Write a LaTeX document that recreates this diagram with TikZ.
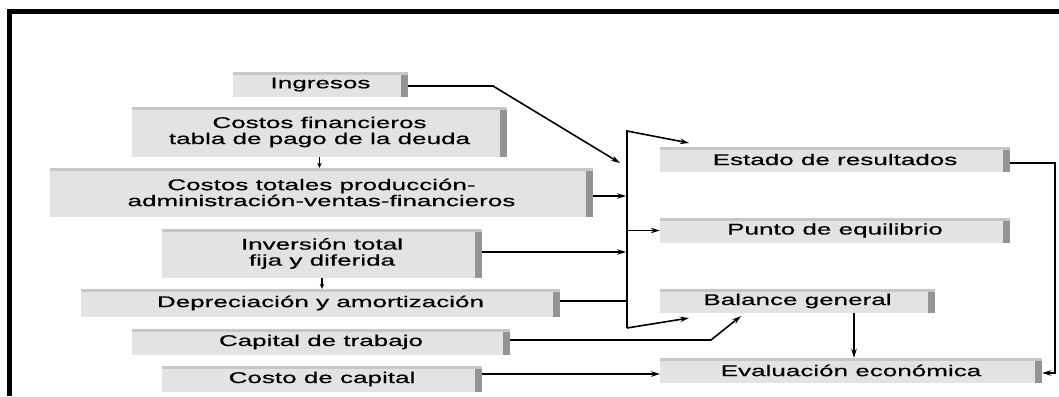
\documentclass[tikz,border=0pt]{standalone}
\usepackage{fontspec}
\usetikzlibrary{arrows.meta}
\newfontfamily\lbl[FakeStretch=1.68,FakeBold=0.5]{Liberation Sans}
\tikzset{
  gbox/.style={draw=none, fill=black!11, inner sep=0pt, align=center,
    font=\lbl\fontsize{15.5}{16}\selectfont,
    path picture={
      \fill[black!42] ([xshift=-7pt]path picture bounding box.north east) rectangle (path picture bounding box.south east);
      \fill[black!22] (path picture bounding box.north west) rectangle ([yshift=-2.5pt]path picture bounding box.north east);
    }},
  conn/.style={draw=black, line width=1.6pt},
  arr/.style={conn, -{Stealth[length=9pt,width=5.5pt]}},
  sarr/.style={conn, line width=1.3pt, -{Stealth[length=5pt,width=4.5pt]}}
}
\begin{document}
\begin{tikzpicture}[x=1pt,y=-1pt]
\useasboundingbox (0,0) rectangle (1059,396);
\fill[white] (0,0) rectangle (1059,396);
% frame
\fill[black] (7,9) rectangle (1059,14);
\fill[black] (7,9) rectangle (12,396);

% left boxes
\node[gbox, minimum width=175pt, minimum height=25pt] (ing) at (320.5,84.5) {Ingresos};
\node[gbox, minimum width=375pt, minimum height=50pt] (cf) at (319.5,132) {Costos financieros\\tabla de pago de la deuda};
\node[gbox, minimum width=543pt, minimum height=49pt] (ct) at (321.5,192.5) {Costos totales producción-\\administración-ventas-financieros};
\node[gbox, minimum width=320pt, minimum height=49pt] (inv) at (322,253.5) {Inversión total\\fija y diferida};
\node[gbox, minimum width=479pt, minimum height=28pt] (dep) at (320.5,303) {Depreciación y amortización};
\node[gbox, minimum width=378pt, minimum height=26pt] (cap) at (321,342) {Capital de trabajo};
\node[gbox, minimum width=320pt, minimum height=26pt] (cc) at (322,379) {Costo de capital};

% right boxes
\node[gbox, minimum width=350pt, minimum height=25pt] (er) at (835,159.5) {Estado de resultados};
\node[gbox, minimum width=350pt, minimum height=25pt] (pe) at (835,230.5) {Punto de equilibrio};
\node[gbox, minimum width=275pt, minimum height=24pt] (bg) at (797.5,301) {Balance general};
\node[gbox, minimum width=382pt, minimum height=25pt] (ev) at (851,370.5) {Evaluación económica};

% coordinates
\coordinate (ingbend) at (493,86);
\coordinate (ingin) at (620,163);
\coordinate (ttop) at (627,131);
\coordinate (tbot) at (627,328);
\coordinate (erin) at (689,143);
\coordinate (bgin) at (689,318);
\coordinate (ctin) at (626,196);
\coordinate (invin) at (626,252);
\coordinate (depj) at (627,301);
\coordinate (capbend) at (711,340);
\coordinate (capin) at (741,316);
\coordinate (ccin) at (660,374);
\coordinate (rt1) at (1055,163);
\coordinate (rt2) at (1055,373);
\coordinate (bgx) at (854,0);

% connectors
\draw[arr] (ing.east |- ingbend) -- (ingbend) -- (ingin);
\draw[arr] (tbot) -- (ttop) -- (erin);
\draw[arr] (tbot) -- (bgin);
\draw[arr] (ct.east |- ctin) -- (ctin);
\draw[arr] (inv.east |- invin) -- (invin);
\draw[conn] (dep.east |- depj) -- (depj);
\draw[arr] (ttop |- pe.west) -- (pe.west);
\draw[arr] (cap.east |- capbend) -- (capbend) -- (capin);
\draw[arr] (cc.east |- ccin) -- (ccin);
\draw[arr] (er.east |- rt1) -- (rt1) -- (rt2) -- (ev.east |- rt2);
\draw[arr] (bg.south -| bgx) -- (ev.north -| bgx);
\draw[sarr] (cf.south) -- (cf.south |- ct.north);
\draw[sarr] (inv.south) -- (inv.south |- dep.north);
\end{tikzpicture}
\end{document}
